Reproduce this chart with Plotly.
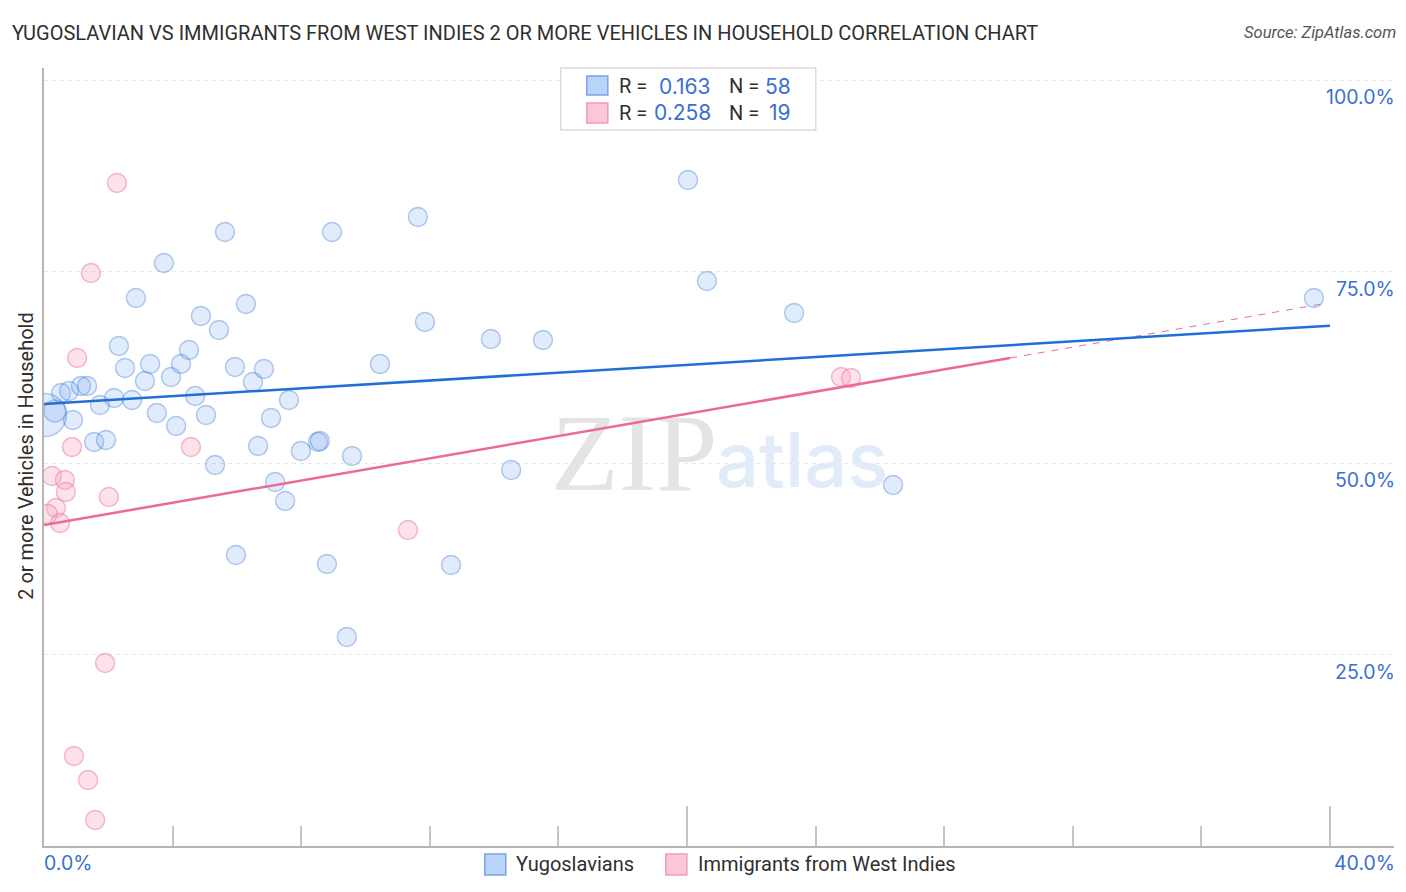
import plotly.graph_objects as go

# values, x and y both in percent
yugoslav_x = [0.53, 0.78, 1.15, 1.34, 0.34, 0.90, 1.74, 2.18, 2.74, 1.56, 1.93, 2.52, 2.33, 3.14, 3.30,
              3.95, 4.26, 4.51, 2.86, 3.73, 3.51, 4.11, 4.70, 5.04, 5.32, 4.88, 5.44, 5.63, 6.28, 5.94,
              6.50, 6.84, 7.06, 6.66, 7.62, 7.19, 7.50, 7.99, 8.52, 8.58, 9.58, 5.97, 8.80, 9.42, 8.96,
              11.63, 11.85, 10.45, 13.90, 15.52, 14.53, 12.66, 20.03, 20.62, 23.33, 26.41, 39.50, 0.03]
yugoslav_y = [59.14, 59.40, 60.05, 60.05, 56.79, 55.61, 57.57, 58.49, 58.22, 52.74, 53.00, 62.40, 65.27, 60.70, 62.92,
              61.23, 62.92, 64.75, 71.54, 76.11, 56.53, 54.83, 58.75, 56.27, 49.74, 69.19, 67.36, 80.16, 70.76, 62.53,
              60.57, 62.27, 55.87, 52.22, 58.22, 47.52, 45.04, 51.57, 52.74, 52.87, 50.91, 37.99, 36.81, 27.28, 80.16,
              82.11, 68.41, 62.92, 66.19, 66.06, 49.09, 36.68, 86.95, 73.76, 69.58, 47.13, 71.54, 56.27]

west_indies_x = [2.27, 1.46, 1.03, 0.87, 4.57, 0.25, 0.65, 0.68, 2.02, 0.37, 0.12, 0.50, 11.32, 1.90, 0.93, 1.37, 1.59, 24.79, 25.10]
west_indies_y = [86.55, 74.80, 63.71, 52.09, 52.09, 48.30, 47.78, 46.21, 45.56, 44.13, 43.34, 42.17, 41.25, 23.89, 11.75, 8.62, 3.39, 61.23, 61.10]

yugoslav_trend_x = [0, 40]
yugoslav_trend_y = [57.70, 67.93]
west_indies_trend_x = [0, 30.05]
west_indies_trend_y = [41.91, 63.71]
west_indies_dash_x = [30.05, 39.9]
west_indies_dash_y = [63.71, 70.86]

y_ticks = [25, 50, 75, 100]
y_tick_labels = ['25.0%', '50.0%', '75.0%', '100.0%']

W, H = 1406, 892
LEFT, RIGHT, TOP, BOTTOM = 44.2, 1394.2, 68, 846
FONT = 'Roboto, sans-serif'
TICK_FONT = 'Inter, sans-serif'
BLUE_TEXT = '#3b6fd1'
DARK = '#2f2f2f'


def px(x):
    return (x - LEFT) / (RIGHT - LEFT)


def py(y):
    return (BOTTOM - y) / (BOTTOM - TOP)


def label(x, y, text, size=20, color=DARK, anchor='left', family=FONT, **kw):
    return dict(x=px(x), y=py(y), xref='paper', yref='paper', text=text, showarrow=False,
                xanchor=anchor, yanchor='middle', font=dict(family=family, size=size, color=color), **kw)


def box(x0, y0, x1, y1, fill, line, width=1.5):
    return dict(type='rect', xref='paper', yref='paper', x0=px(x0), x1=px(x1), y0=py(y0), y1=py(y1),
                fillcolor=fill, line=dict(color=line, width=width))


# a couple of points are bigger in the original
yugoslav_sizes = [19] * len(yugoslav_x)
yugoslav_sizes[4] = 22
yugoslav_sizes[-1] = 43

fig = go.Figure()

# watermark goes first so it stays under everything else
fig.add_trace(go.Scatter(x=[18.36], y=[50.1], mode='text', text=['ZIP'], hoverinfo='skip', showlegend=False,
                         textfont=dict(family='Liberation Serif', size=111, color='#e4e4e4')))
fig.add_trace(go.Scatter(x=[23.58], y=[49.4], mode='text', text=['atlas'], hoverinfo='skip', showlegend=False,
                         textfont=dict(family='Inter', size=76, color='#e2ebfa', weight=500)))

fig.add_trace(go.Scatter(
    x=yugoslav_x, y=yugoslav_y, mode='markers', name='Yugoslavians', showlegend=False,
    marker=dict(size=yugoslav_sizes, color='rgba(120,170,240,0.33)',
                line=dict(color='rgba(50,115,215,0.55)', width=1.4)),
))
fig.add_trace(go.Scatter(
    x=west_indies_x, y=west_indies_y, mode='markers', name='Immigrants from West Indies', showlegend=False,
    marker=dict(size=19, color='rgba(248,165,190,0.32)',
                line=dict(color='rgba(235,115,155,0.50)', width=1.4)),
))
fig.add_trace(go.Scatter(x=west_indies_dash_x, y=west_indies_dash_y, mode='lines', showlegend=False,
                         line=dict(color='#ec6a9a', width=1, dash='7px,7px')))
fig.add_trace(go.Scatter(x=west_indies_trend_x, y=west_indies_trend_y, mode='lines', showlegend=False,
                         line=dict(color='#ec6a9a', width=2.5)))
fig.add_trace(go.Scatter(x=yugoslav_trend_x, y=yugoslav_trend_y, mode='lines', showlegend=False,
                         line=dict(color='#1f6fd6', width=2.5)))

annotations = [
    label(10, 33, 'YUGOSLAVIAN VS IMMIGRANTS FROM WEST INDIES 2 OR MORE VEHICLES IN HOUSEHOLD CORRELATION CHART'),
    label(1398, 33, '<i>Source: ZipAtlas.com</i>', size=16.5, color='#555555', anchor='right'),
    label(26, 456, '2 or more Vehicles in Household', anchor='center', textangle=-90),
    label(42, 863, '0.0%', size=19.5, color=BLUE_TEXT, family=TICK_FONT),
    label(1397, 863, '40.0%', size=19.5, color=BLUE_TEXT, anchor='right', family=TICK_FONT),
    label(617, 86, 'R ='),
    label(713, 86, '0.163', size=21, color=BLUE_TEXT, anchor='right', family=TICK_FONT),
    label(727, 86, 'N ='),
    label(793, 86, '58', size=21, color=BLUE_TEXT, anchor='right', family=TICK_FONT),
    label(617, 113, 'R ='),
    label(713, 113, '0.258', size=21, color=BLUE_TEXT, anchor='right', family=TICK_FONT),
    label(727, 113, 'N ='),
    label(793, 113, '19', size=21, color=BLUE_TEXT, anchor='right', family=TICK_FONT),
    label(514, 864, 'Yugoslavians'),
    label(696, 864, 'Immigrants from West Indies'),
]
for val, txt in zip(y_ticks, y_tick_labels):
    annotations.append(dict(x=1, y=val, xref='paper', yref='y', yshift=-17, xshift=3, text=txt, showarrow=False,
                            xanchor='right', yanchor='middle',
                            font=dict(family=TICK_FONT, size=19.5, color=BLUE_TEXT)))

shapes = [
    box(561, 68, 816, 130, 'white', '#dcdcdc'),
    box(587, 76, 608, 95, '#b9d4f8', '#78a5e3'),
    box(587, 103, 608, 123, '#fcc8d8', '#f19ab8'),
    box(485, 854, 506, 875, '#b9d4f8', '#78a5e3'),
    box(666, 854, 687, 875, '#fcc8d8', '#f19ab8'),
]

fig.update_layout(
    width=W, height=H,
    margin=dict(l=LEFT, r=W - RIGHT, t=TOP, b=H - BOTTOM, pad=0),
    paper_bgcolor='white',
    plot_bgcolor='white',
    font=dict(family=FONT),
    showlegend=False,
    annotations=annotations,
    shapes=shapes,
)
fig.update_xaxes(
    range=[0, (RIGHT - LEFT) / 32.15],
    showgrid=False, zeroline=False, showline=True, linecolor='#b5b5b5', linewidth=1.5,
    tickvals=[0, 20, 40], ticktext=['', '', ''], ticks='inside', ticklen=40, tickcolor='#c4c4c4', tickwidth=1.5,
    minor=dict(tickvals=[4, 8, 12, 16, 24, 28, 32, 36], ticks='inside', ticklen=20, tickcolor='#c4c4c4', tickwidth=1.5),
)
fig.update_yaxes(
    range=[0, (BOTTOM - TOP) / 7.66],
    zeroline=False, showline=True, linecolor='#b5b5b5', linewidth=1.5,
    tickvals=y_ticks, showticklabels=False, ticks='',
    showgrid=True, gridcolor='#e6e6e6', gridwidth=1, griddash='4px,4px',
)

fig.write_html('out.html', config={'displayModeBar': False}, post_script="document.body.style.margin='0';")
